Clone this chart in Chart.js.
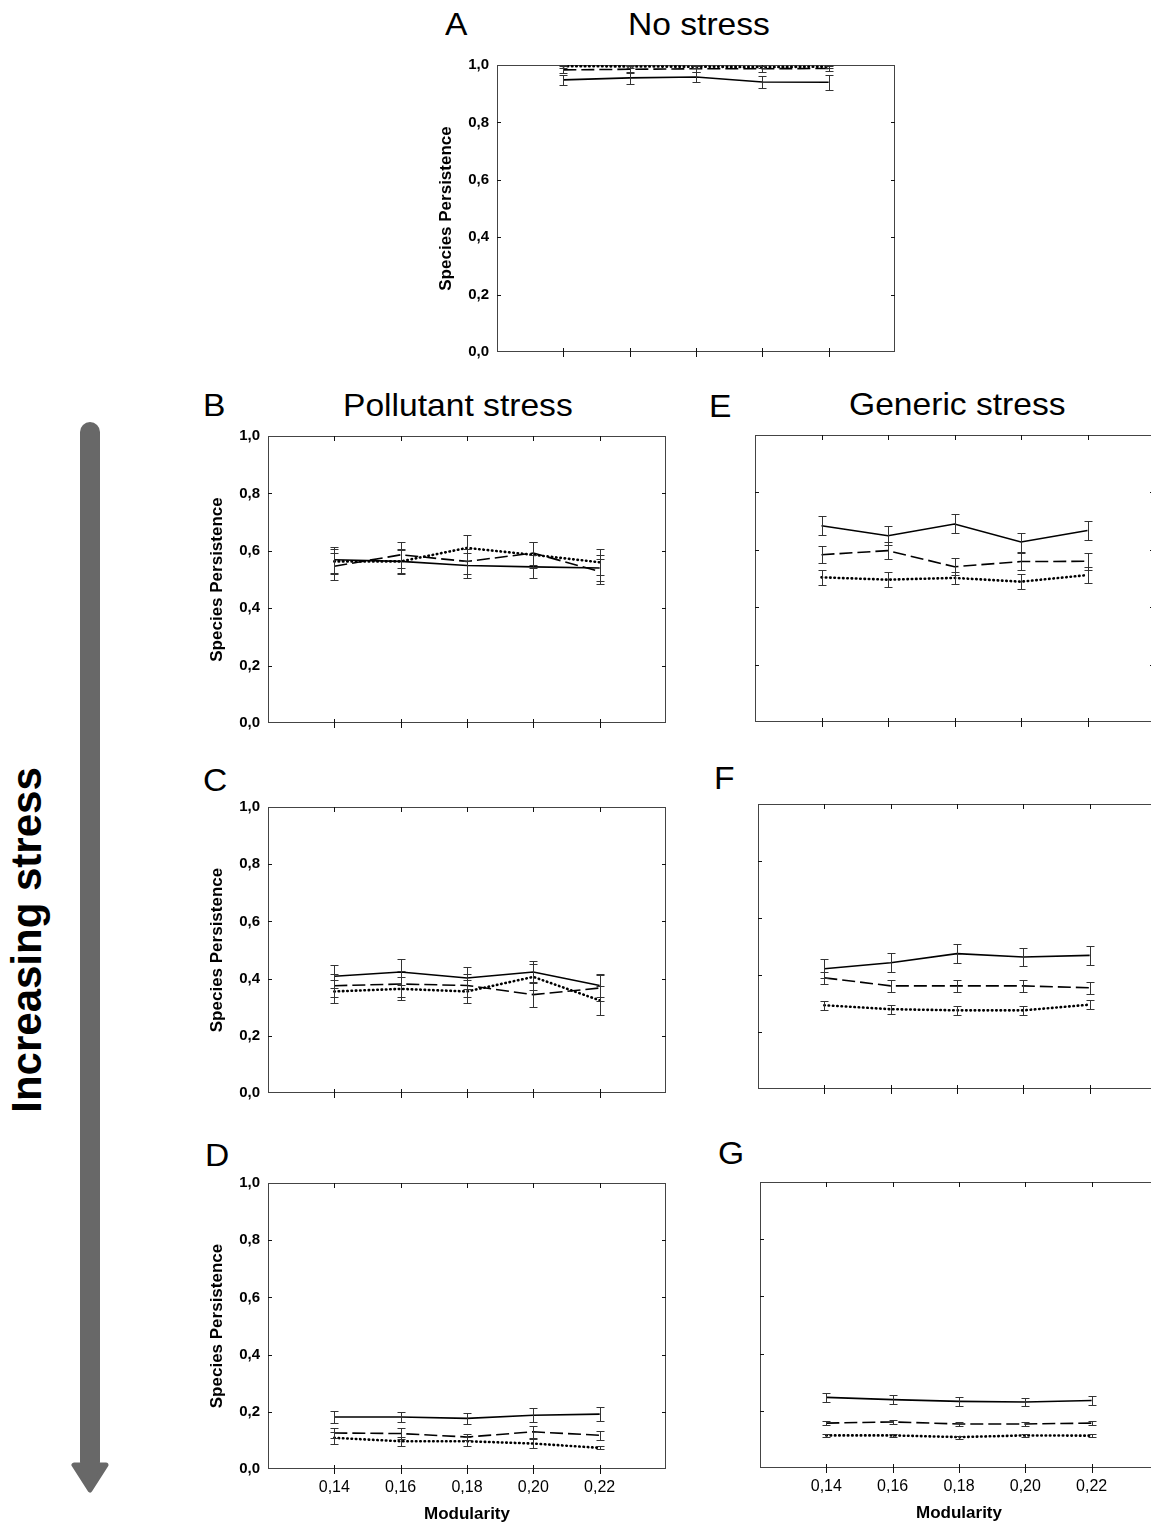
<!DOCTYPE html>
<html>
<head>
<meta charset="utf-8">
<script src="https://cdn.jsdelivr.net/npm/chart.js@4.4.1/dist/chart.umd.min.js"></script>
<style>
  body { margin: 0; width: 1151px; height: 1524px; overflow: hidden; background: #fff; position: relative;
         font-family: "Liberation Sans", Arial, sans-serif; }
  .txt { position: absolute; line-height: 1; white-space: nowrap; color: #000; transform-origin: 0 0; }
  .panel { position: absolute; }
</style>
</head>
<body>
<svg style="position:absolute;left:0;top:0" width="200" height="1524">
  <rect x="80" y="422" width="20" height="1050" rx="10" fill="#686868"/>
  <polygon points="74,1465 106,1465 90,1490" fill="#686868" stroke="#686868" stroke-width="5" stroke-linejoin="round"/>
</svg>
<div class="txt" style="font-weight:bold;font-size:42px;left:27px;top:940px;transform-origin:50% 50%;transform:translate(-50%,-50%) rotate(-90deg)">Increasing stress</div>

<script>
// x positions and axis ticks
const modularity = [0.14, 0.16, 0.18, 0.20, 0.22];
const yTicks = [0, 0.2, 0.4, 0.6, 0.8, 1.0];

// A - no stress
const aSolid = [0.948, 0.955, 0.958, 0.941, 0.940];
const aSolidErr = [0.017, 0.02, 0.017, 0.02, 0.026];
const aDashed = [0.983, 0.985, 0.987, 0.987, 0.988];
const aDashedErr = [0.012, 0.012, 0.01, 0.01, 0.01];
const aDotted = [0.996, 0.995, 0.994, 0.993, 0.994];
const aDottedErr = [0.005, 0.005, 0.005, 0.005, 0.005];

// B, C, D - pollutant stress
const bSolid = [0.569, 0.563, 0.549, 0.544, 0.540];
const bSolidErr = [0.045, 0.045, 0.045, 0.04, 0.045];
const bDashed = [0.546, 0.586, 0.563, 0.592, 0.528];
const bDashedErr = [0.048, 0.045, 0.045, 0.04, 0.045];
const bDotted = [0.563, 0.563, 0.610, 0.586, 0.560];
const bDottedErr = [0.045, 0.04, 0.045, 0.045, 0.045];

const cSolid = [0.408, 0.423, 0.402, 0.423, 0.376];
const cSolidErr = [0.04, 0.045, 0.04, 0.04, 0.04];
const cDashed = [0.375, 0.381, 0.376, 0.344, 0.367];
const cDashedErr = [0.04, 0.045, 0.04, 0.045, 0.045];
const cDotted = [0.355, 0.364, 0.355, 0.406, 0.324];
const cDottedErr = [0.04, 0.04, 0.04, 0.045, 0.05];

const dSolid = [0.182, 0.182, 0.177, 0.188, 0.192];
const dSolidErr = [0.02, 0.017, 0.018, 0.025, 0.025];
const dDashed = [0.126, 0.124, 0.112, 0.130, 0.118];
const dDashedErr = [0.018, 0.018, 0.01, 0.02, 0.016];
const dDotted = [0.109, 0.097, 0.097, 0.089, 0.074];
const dDottedErr = [0.022, 0.015, 0.015, 0.015, 0.005];

// E, F, G - generic stress
const eSolid = [0.684, 0.649, 0.690, 0.627, 0.667];
const eSolidErr = [0.033, 0.033, 0.033, 0.033, 0.033];
const eDashed = [0.583, 0.597, 0.541, 0.559, 0.560];
const eDashedErr = [0.03, 0.03, 0.03, 0.03, 0.03];
const eDotted = [0.504, 0.496, 0.502, 0.489, 0.512];
const eDottedErr = [0.027, 0.027, 0.02, 0.027, 0.028];

const fSolid = [0.422, 0.443, 0.475, 0.463, 0.469];
const fSolidErr = [0.033, 0.033, 0.033, 0.033, 0.033];
const fDashed = [0.390, 0.362, 0.362, 0.362, 0.355];
const fDashedErr = [0.022, 0.022, 0.022, 0.022, 0.022];
const fDotted = [0.294, 0.280, 0.276, 0.276, 0.296];
const fDottedErr = [0.016, 0.016, 0.016, 0.016, 0.016];

const gSolid = [0.247, 0.239, 0.233, 0.231, 0.236];
const gSolidErr = [0.015, 0.015, 0.015, 0.015, 0.015];
const gDashed = [0.157, 0.161, 0.154, 0.154, 0.157];
const gDashedErr = [0.008, 0.008, 0.008, 0.008, 0.008];
const gDotted = [0.114, 0.114, 0.108, 0.114, 0.113];
const gDottedErr = [0.005, 0.005, 0.005, 0.005, 0.005];

Chart.defaults.font.family = '"Liberation Sans", Arial, sans-serif';
Chart.defaults.color = '#000';

// panel letters and column headers, placed by left edge and baseline
function addText(str, left, baseline, size) {
  const d = document.createElement('div');
  d.className = 'txt';
  d.textContent = str;
  d.style.fontSize = size + 'px';
  d.style.left = left + 'px';
  d.style.top = (baseline - 0.8465 * size) + 'px';
  d.style.transform = 'scaleX(1.05)';
  document.body.appendChild(d);
}
addText('A', 445, 35, 32);
addText('No stress', 628, 35, 32);
addText('B', 203, 416, 32);
addText('Pollutant stress', 343, 416, 32);
addText('E', 709, 417, 32);
addText('Generic stress', 849, 415, 32);
addText('C', 203, 791, 32);
addText('F', 714, 789, 32);
addText('D', 205, 1166, 32);
addText('G', 718, 1164, 32);

// frame and inward tick marks
const frameTicks = {
  id: 'frameTicks',
  beforeDatasetsDraw(chart) {
    const { ctx, chartArea: a, scales: { x, y } } = chart;
    ctx.save();
    ctx.lineWidth = 1;
    ctx.strokeStyle = '#444';
    ctx.strokeRect(a.left + 0.5, a.top + 0.5, a.right - a.left - 1, a.bottom - a.top - 1);
    ctx.strokeStyle = '#111';
    ctx.beginPath();
    modularity.forEach(v => {
      const px = Math.round(x.getPixelForValue(v)) + 0.5;
      ctx.moveTo(px, a.top); ctx.lineTo(px, a.top + 5);
      ctx.moveTo(px, a.bottom - 4); ctx.lineTo(px, a.bottom + 5);
    });
    yTicks.slice(1, -1).forEach(v => {
      const py = Math.round(y.getPixelForValue(v)) + 0.5;
      ctx.moveTo(a.left, py); ctx.lineTo(a.left + 4, py);
      ctx.moveTo(a.right - 4, py); ctx.lineTo(a.right, py);
    });
    ctx.stroke();
    ctx.restore();
  }
};

// vertical error bars with caps
const errorBars = {
  id: 'errorBars',
  afterDatasetsDraw(chart) {
    const { ctx, scales: { x, y } } = chart;
    ctx.save();
    ctx.lineWidth = 1;
    ctx.strokeStyle = '#333';
    chart.data.datasets.forEach(ds => {
      ds.data.forEach((p, i) => {
        const e = ds.errors[i];
        const px = Math.round(x.getPixelForValue(p.x)) + 0.5;
        const y1 = Math.round(y.getPixelForValue(p.y - e)) + 0.5;
        const y2 = Math.round(y.getPixelForValue(p.y + e)) + 0.5;
        ctx.beginPath();
        ctx.moveTo(px, y1); ctx.lineTo(px, y2);
        ctx.moveTo(px - 4, y1); ctx.lineTo(px + 4, y1);
        ctx.moveTo(px - 4, y2); ctx.lineTo(px + 4, y2);
        ctx.stroke();
      });
    });
    ctx.restore();
  }
};

function series(vals, errs, style) {
  const ds = {
    data: modularity.map((m, i) => ({ x: m, y: vals[i] })),
    errors: errs,
    borderColor: '#000',
    borderWidth: 1.6,
    pointRadius: 0,
    tension: 0,
    fill: false
  };
  if (style === 'dashed') ds.borderDash = [13, 5];
  if (style === 'dotted') { ds.borderDash = [0.5, 3.8]; ds.borderWidth = 2.6; ds.borderCapStyle = 'round'; }
  return ds;
}

const PAD_L = 70, PAD_T = 22, PAD_R = 8;

function makePanel(box, yLabels, xLabels, sets) {
  const padB = xLabels ? 60 : 22;
  const w = PAD_L + (box.r - box.l) + PAD_R;
  const h = PAD_T + (box.b - box.t) + padB;
  const div = document.createElement('div');
  div.className = 'panel';
  div.style.left = (box.l - PAD_L) + 'px';
  div.style.top = (box.t - PAD_T) + 'px';
  const cv = document.createElement('canvas');
  cv.width = w; cv.height = h;
  div.appendChild(cv);
  document.body.appendChild(div);

  new Chart(cv, {
    type: 'line',
    data: { datasets: sets },
    options: {
      responsive: false,
      animation: false,
      layout: { padding: { left: 0, top: PAD_T, right: PAD_R, bottom: 0 } },
      plugins: { legend: { display: false }, tooltip: { enabled: false } },
      scales: {
        x: {
          type: 'linear', min: 0.12, max: 0.24,
          afterBuildTicks: s => { s.ticks = modularity.map(v => ({ value: v })); },
          afterFit: s => { s.height = padB; },
          grid: { display: false, drawTicks: false },
          border: { display: false },
          ticks: {
            display: xLabels, padding: 9, autoSkip: false, maxRotation: 0,
            font: { size: 16 },
            callback: v => v.toFixed(2).replace('.', ',')
          },
          title: {
            display: xLabels, text: 'Modularity',
            font: { size: 17, weight: 'bold' },
            padding: { top: 0, bottom: 4 }
          }
        },
        y: {
          min: 0, max: 1,
          afterBuildTicks: s => { s.ticks = yTicks.map(v => ({ value: v })); },
          afterFit: s => { s.width = PAD_L; },
          grid: { display: false, drawTicks: false },
          border: { display: false },
          ticks: {
            display: yLabels, padding: 8,
            font: { size: 15, weight: 'bold' },
            callback: v => v.toFixed(1).replace('.', ',')
          },
          title: {
            display: yLabels, text: 'Species Persistence',
            font: { size: 17, weight: 'bold' },
            padding: { top: 9, bottom: 0 }
          }
        }
      }
    },
    plugins: [frameTicks, errorBars]
  });
}

function trio(s, se, d, de, o, oe) {
  return [series(s, se, 'solid'), series(d, de, 'dashed'), series(o, oe, 'dotted')];
}

makePanel({ l: 497, t: 65, r: 895, b: 352 }, true, false, trio(aSolid, aSolidErr, aDashed, aDashedErr, aDotted, aDottedErr));
makePanel({ l: 268, t: 436, r: 666, b: 723 }, true, false, trio(bSolid, bSolidErr, bDashed, bDashedErr, bDotted, bDottedErr));
makePanel({ l: 268, t: 807, r: 666, b: 1093 }, true, false, trio(cSolid, cSolidErr, cDashed, cDashedErr, cDotted, cDottedErr));
makePanel({ l: 268, t: 1183, r: 666, b: 1469 }, true, true, trio(dSolid, dSolidErr, dDashed, dDashedErr, dDotted, dDottedErr));
makePanel({ l: 755, t: 435, r: 1154, b: 722 }, false, false, trio(eSolid, eSolidErr, eDashed, eDashedErr, eDotted, eDottedErr));
makePanel({ l: 758, t: 804, r: 1156, b: 1089 }, false, false, trio(fSolid, fSolidErr, fDashed, fDashedErr, fDotted, fDottedErr));
makePanel({ l: 760, t: 1182, r: 1158, b: 1468 }, false, true, trio(gSolid, gSolidErr, gDashed, gDashedErr, gDotted, gDottedErr));
</script>
</body>
</html>
